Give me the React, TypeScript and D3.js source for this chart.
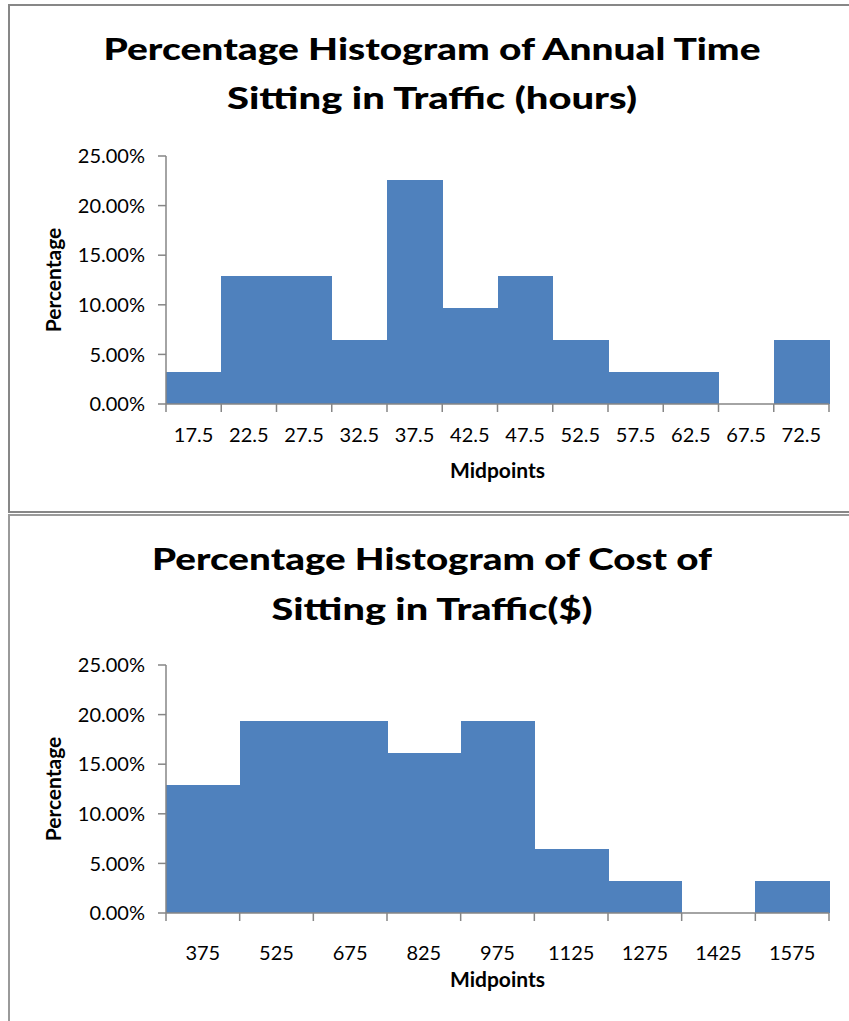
import React from "react";
import * as d3 from "d3";

const timeMidpoints = ["17.5", "22.5", "27.5", "32.5", "37.5", "42.5", "47.5", "52.5", "57.5", "62.5", "67.5", "72.5"];
const timePercent = [3.23, 12.9, 12.9, 6.45, 22.58, 9.68, 12.9, 6.45, 3.23, 3.23, 0, 6.45];

const costMidpoints = ["375", "525", "675", "825", "975", "1125", "1275", "1425", "1575"];
const costPercent = [12.9, 19.35, 19.35, 16.13, 19.35, 6.45, 3.23, 0, 3.23];

const yTickValues = [0, 5, 10, 15, 20, 25];

const titleTime = ["Percentage Histogram of Annual Time", "Sitting in Traffic (hours)"];
const titleCost = ["Percentage Histogram of Cost of", "Sitting in Traffic($)"];

const FONT = "Lato, 'Open Sans', sans-serif";
const AXIS = "#868686";
const BAR = "#4F81BD";

type HistProps = {
  titles: string[];
  titleWidths: number[];
  titleBaselines: number[];
  cats: string[];
  vals: number[];
  yTop: number;
  yBottom: number;
  xLabelBaseline: number;
  xTitleBaseline: number;
};

function Histogram(p: HistProps) {
  const x0 = 166;
  const x1 = 829;
  const x = d3.scaleBand<string>().domain(p.cats).range([x0, x1]).paddingInner(0).paddingOuter(0);
  const y = d3.scaleLinear().domain([0, 25]).range([p.yBottom, p.yTop]);
  const cx = 432;
  const edges = p.cats.map((c) => x(c) as number).concat([x1]);
  return (
    <g>
      {p.titles.map((t, i) => (
        <text
          key={t}
          x={cx}
          y={p.titleBaselines[i]}
          textAnchor="middle"
          fontFamily={FONT}
          fontWeight="900"
          fontSize={31}
          textLength={p.titleWidths[i]}
          lengthAdjust="spacingAndGlyphs"
          fill="#000"
        >
          {t}
        </text>
      ))}
      <g shapeRendering="crispEdges">
        {p.cats.map((c, i) => (
          <rect
            key={c}
            x={x(c)}
            y={y(p.vals[i])}
            width={x.bandwidth() + 0.5}
            height={y(0) - y(p.vals[i])}
            fill={BAR}
          />
        ))}
      </g>
      {/* y axis */}
      <line x1={x0} x2={x0} y1={y(25)} y2={y(0)} stroke={AXIS} strokeWidth={1.5} />
      {yTickValues.map((v) => (
        <g key={v}>
          <line x1={x0 - 8} x2={x0} y1={y(v)} y2={y(v)} stroke={AXIS} strokeWidth={1.5} />
          <text x={145} y={y(v)} dy="0.36em" textAnchor="end" fontFamily={FONT} fontSize={20} fill="#000">
            {v.toFixed(2)}%
          </text>
        </g>
      ))}
      {/* x axis */}
      <line x1={x0} x2={x1} y1={y(0)} y2={y(0)} stroke={AXIS} strokeWidth={1.5} />
      {edges.map((e, i) => (
        <line key={i} x1={e} x2={e} y1={y(0)} y2={y(0) + 8} stroke={AXIS} strokeWidth={1.5} />
      ))}
      {p.cats.map((c) => (
        <text
          key={c}
          x={(x(c) as number) + x.bandwidth() / 2}
          y={p.xLabelBaseline}
          textAnchor="middle"
          fontFamily={FONT}
          fontSize={20}
          fill="#000"
        >
          {c}
        </text>
      ))}
      <text x={(x0 + x1) / 2} y={p.xTitleBaseline} textAnchor="middle" fontFamily={FONT} fontWeight="bold" fontSize={21} fill="#000">
        Midpoints
      </text>
      <text
        transform={`translate(61, ${(p.yTop + p.yBottom) / 2}) rotate(-90)`}
        textAnchor="middle"
        fontFamily={FONT}
        fontWeight="bold"
        fontSize={21}
        fill="#000"
      >
        Percentage
      </text>
    </g>
  );
}

export default function App() {
  return (
    <svg
      width={849}
      height={1021}
      style={{ position: "absolute", left: 0, top: 0, background: "#fff" }}
    >
      <rect x={0} y={0} width={849} height={1021} fill="#fff" />
      <rect x={9} y={5} width={860} height={507} fill="#fff" stroke="#878787" strokeWidth={2} />
      <rect x={9} y={515} width={860} height={520} fill="#fff" stroke="#9a9a9a" strokeWidth={2} />
      <Histogram
        titles={titleTime}
        titleWidths={[657, 410]}
        titleBaselines={[60, 109]}
        cats={timeMidpoints}
        vals={timePercent}
        yTop={156}
        yBottom={404}
        xLabelBaseline={442}
        xTitleBaseline={478}
      />
      <Histogram
        titles={titleCost}
        titleWidths={[560, 321]}
        titleBaselines={[570, 620]}
        cats={costMidpoints}
        vals={costPercent}
        yTop={665}
        yBottom={913}
        xLabelBaseline={960}
        xTitleBaseline={987}
      />
    </svg>
  );
}
